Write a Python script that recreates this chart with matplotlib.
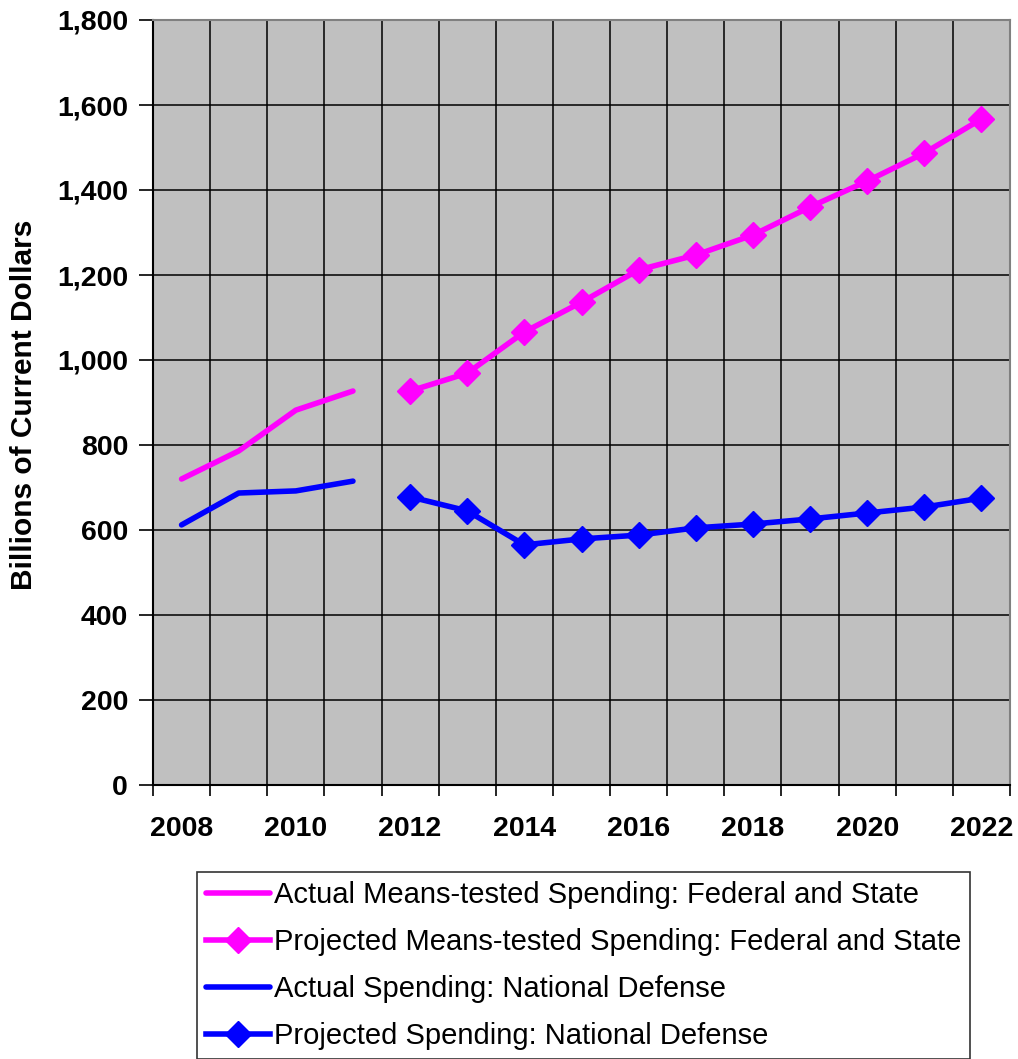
import numpy as np
import matplotlib
matplotlib.use('Agg')
import matplotlib.pyplot as plt
from matplotlib.ticker import FuncFormatter

plt.rcParams['font.family'] = ['Liberation Sans', 'DejaVu Sans']

years = list(range(2008, 2023))
actual_years = [2008, 2009, 2010, 2011]
proj_years = list(range(2012, 2023))

means_actual = [720, 786, 882, 927]
means_proj = [927, 969, 1066, 1136, 1212, 1247, 1294, 1360, 1421, 1487, 1567]
defense_actual = [612, 687, 692, 715]
defense_proj = [678, 645, 565, 579, 588, 605, 614, 626, 640, 654, 675]

labels = ['Actual Means-tested Spending: Federal and State',
          'Projected Means-tested Spending: Federal and State',
          'Actual Spending: National Defense',
          'Projected Spending: National Defense']

pink = '#FF00FF'
blue = '#0000FF'

fig = plt.figure(figsize=(10.18, 10.59), dpi=100)
ax = fig.add_axes([153/1018, 1 - 785/1059, (1010-153)/1018, (785-20)/1059])
ax.set_facecolor('#C0C0C0')

pos = {y: i for i, y in enumerate(years)}
xa = [pos[y] for y in actual_years]
xp = [pos[y] for y in proj_years]

lw = 4.0
ax.plot(xa, means_actual, color=pink, lw=lw, solid_capstyle='round', label=labels[0], zorder=3)
ax.plot(xp, means_proj, color=pink, lw=lw, marker='D', ms=13, label=labels[1], zorder=3)
ax.plot(xa, defense_actual, color=blue, lw=lw, solid_capstyle='round', label=labels[2], zorder=3)
ax.plot(xp, defense_proj, color=blue, lw=lw, marker='D', ms=13, label=labels[3], zorder=3)

ax.set_xlim(-0.5, len(years) - 0.5)
ax.set_ylim(0, 1800)
ax.set_yticks(np.arange(0, 1801, 200))
ax.yaxis.set_major_formatter(FuncFormatter(lambda v, p: f'{int(v):,}'))

ax.set_xticks(range(0, len(years), 2))
ax.set_xticklabels([str(y) for y in years[::2]])
ax.set_xticks(np.arange(-0.5, len(years), 1), minor=True)
ax.tick_params(axis='x', which='major', length=0, pad=22)
ax.tick_params(axis='x', which='minor', length=8, width=1.2, direction='out')
ax.tick_params(axis='y', length=10, width=1.2, direction='out', pad=8)

ax.grid(True, axis='y', which='major', color='black', lw=1.1)
ax.grid(True, axis='x', which='minor', color='black', lw=1.1)
ax.set_axisbelow(True)

for lab in ax.get_xticklabels() + ax.get_yticklabels():
    lab.set_fontsize(20.5)
    lab.set_fontweight('bold')

for s in ['top', 'right']:
    ax.spines[s].set_color('#808080')
    ax.spines[s].set_linewidth(1.5)
for s in ['left', 'bottom']:
    ax.spines[s].set_color('black')
    ax.spines[s].set_linewidth(1.5)

fig.text(24/1018, 1 - 405/1059, 'Billions of Current Dollars', rotation=90,
         ha='center', va='center', fontsize=21.5, fontweight='bold')

leg = fig.legend(loc='upper left', bbox_to_anchor=(197/1018, 1 - 872/1059),
                 fontsize=21, frameon=True, fancybox=False, edgecolor='black',
                 handlelength=2.2, handletextpad=0.15, borderpad=0.3,
                 labelspacing=0.66, borderaxespad=0)
leg.get_frame().set_linewidth(1.2)

plt.savefig('out.png', dpi=100)
plt.close()
